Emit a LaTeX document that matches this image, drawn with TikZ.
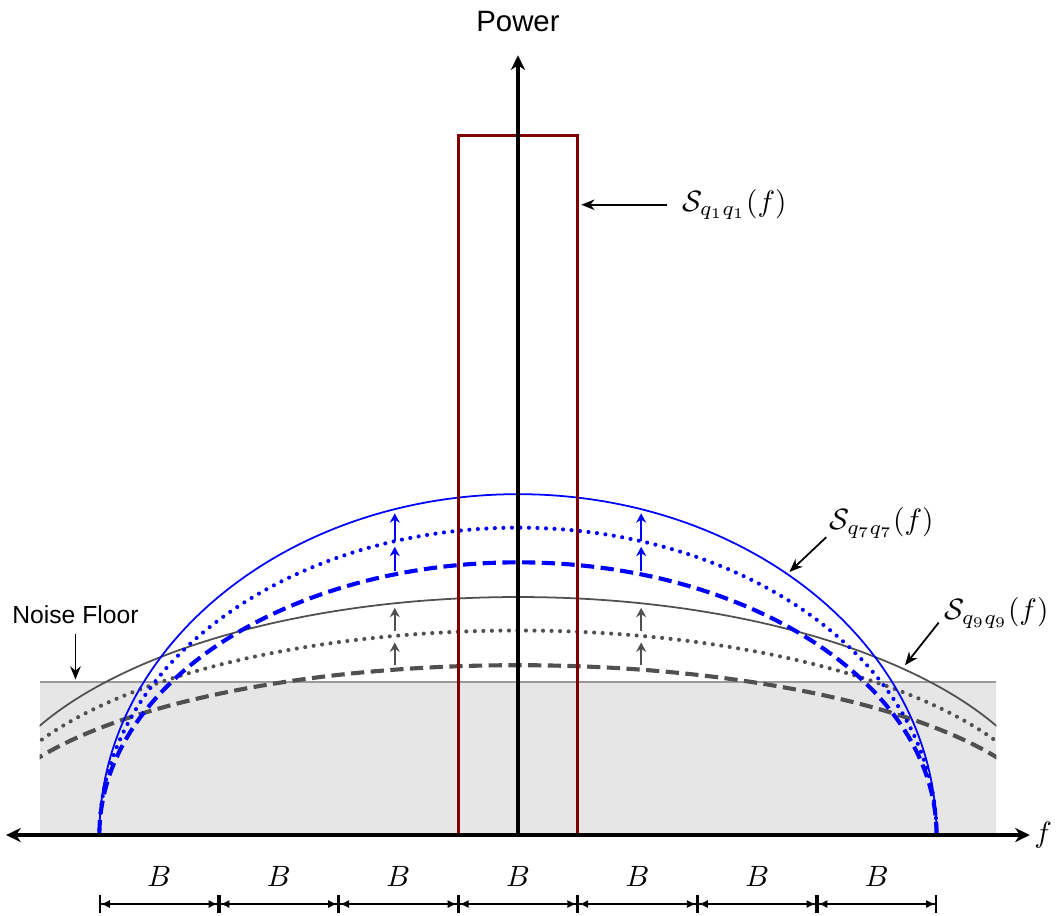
\documentclass[tikz,border=0pt]{standalone}
\usepackage{amsmath}
\usepackage{fontspec}
\newfontfamily\labelfont{Liberation Sans}
\usetikzlibrary{arrows.meta,positioning}
\definecolor{floorfill}{HTML}{E6E6E6}
\definecolor{floorline}{HTML}{9A9A9A}
\definecolor{adjgray}{HTML}{505050}
\definecolor{tonered}{HTML}{800000}

\begin{document}
\begin{tikzpicture}[
  x=1.43cm, y=1.43cm,
  axis/.style={line width=1.1pt, -{Stealth[length=5pt, width=4.8pt, inset=1.6pt]}},
  twoaxis/.style={line width=1.1pt, {Stealth[length=5pt, width=4.8pt, inset=1.6pt]}-{Stealth[length=5pt, width=4.8pt, inset=1.6pt]}},
  pointer/.style={-{Stealth[length=4.5pt, width=3.6pt]}, line width=0.6pt},
  lift/.style={-{Stealth[length=3.2pt, width=3.4pt]}, line width=0.7pt},
  dimline/.style={{Bar[width=6pt]Latex[length=3pt, width=2.8pt]}-{Latex[length=3pt, width=2.8pt]Bar[width=6pt]}, line width=0.55pt},
  solidcurve/.style={line width=0.6pt},
  dotcurve/.style={line width=1.4pt, line cap=round, dash pattern=on 0pt off 2.9pt},
  dashcurve/.style={line width=1.4pt, dash pattern=on 4.5pt off 2.2pt}
]
\useasboundingbox (-4.331,-0.677) rectangle (4.507,6.982);

% noise floor
\fill[floorfill] (-4,0) rectangle (4,1.28);
\draw[floorline, line width=0.6pt] (-4,1.28) -- (4,1.28);

% adjacent channel spectra (gray)
\begin{scope}
  \clip (-4,0) rectangle (4,3);
  \draw[adjgray, solidcurve] (4.5,0) arc[start angle=0, end angle=180, x radius=4.5, y radius=1.99];
  \draw[adjgray, dotcurve] (4.5,0) arc[start angle=0, end angle=180, x radius=4.5, y radius=1.71];
  \draw[adjgray, dashcurve] (4.5,0) arc[start angle=0, end angle=180, x radius=4.5, y radius=1.42];
\end{scope}

% adjacent channel spectra (blue)
\draw[blue, solidcurve] (3.5,0) arc[start angle=0, end angle=180, x radius=3.5, y radius=2.85];
\draw[blue, dotcurve] (3.5,0) arc[start angle=0, end angle=180, x radius=3.5, y radius=2.57];
\draw[blue, dashcurve] (3.5,0) arc[start angle=0, end angle=180, x radius=3.5, y radius=2.28];

% growth arrows
\foreach \xa in {-1.03,1.03} {
  \draw[lift, blue] (\xa,2.21) -- (\xa,2.41);
  \draw[lift, blue] (\xa,2.46) -- (\xa,2.69);
  \draw[lift, adjgray] (\xa,1.42) -- (\xa,1.61);
  \draw[lift, adjgray] (\xa,1.71) -- (\xa,1.90);
}

% tone
\draw[tonered, line width=1.0pt] (-0.5,0) rectangle (0.5,5.85);

% axes
\coordinate (origin) at (0,0);
\coordinate (fmin) at (-4.28,0);
\coordinate (fmax) at (4.28,0);
\coordinate (pmax) at (0,6.52);
\draw[twoaxis] (fmin) -- (fmax);
\draw[axis] (origin) -- (pmax);
\node[font=\labelfont] (power) at (0,6.80) {Power};
\node[right=-2pt of fmax] (freq) {$f$};

% labels
\node (sq1) at (1.81,5.27) {$\mathcal{S}_{q_1q_1}(f)$};
\coordinate (sq1tip) at (0.53,5.27);
\draw[pointer] ([xshift=-0.06cm]sq1.west) -- (sq1tip);

\node (sq7) at (3.04,2.61) {$\mathcal{S}_{q_7q_7}(f)$};
\coordinate (sq7tip) at (2.27,2.20);
\draw[pointer] ([shift={(0.06,-0.12)}]sq7.west) -- (sq7tip);

\node (sq9) at (4.0,1.856) {$\mathcal{S}_{q_9q_9}(f)$};
\coordinate (sq9tip) at (3.236,1.42);
\draw[pointer] ([shift={(0.04,-0.08)}]sq9.west) -- (sq9tip);

\node[font=\labelfont\fontsize{8.4}{10}\selectfont] (floor) at (-3.70,1.84) {Noise Floor};
\coordinate (floortip) at (-3.70,1.30);
\draw[pointer] (floor.south) -- (floortip);

% bandwidth marks
\foreach \xl [count=\n] in {-3.5,-2.5,...,2.5} {
  \draw[dimline] (\xl,-0.577) -- (\xl+1,-0.577);
  \node (bw\n) at (\xl+0.5,-0.35) {$B$};
}
\end{tikzpicture}
\end{document}
